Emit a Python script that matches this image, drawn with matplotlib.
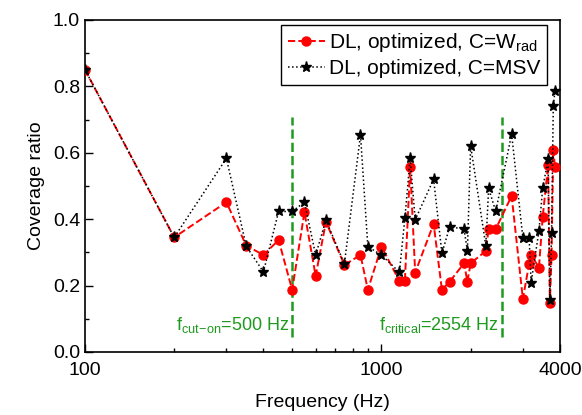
import matplotlib
matplotlib.use("Agg")
import matplotlib.pyplot as plt
from matplotlib.ticker import FixedLocator, FixedFormatter, MultipleLocator

plt.rcParams['font.family'] = ['Liberation Sans', 'DejaVu Sans']
plt.rcParams['mathtext.fontset'] = 'custom'
plt.rcParams['mathtext.rm'] = 'Liberation Sans'
plt.rcParams['mathtext.it'] = 'Liberation Sans:italic'

freq = [100, 200, 300, 350, 400, 450, 500, 550, 600, 650, 750, 850, 900, 1000,
        1150, 1200, 1250, 1300, 1500, 1600, 1700, 1900, 1950, 2000, 2250, 2300,
        2430, 2750, 3000, 3150, 3200, 3400, 3500, 3650, 3700, 3750, 3800, 3850]
wrad = [0.85, 0.345, 0.451, 0.320, 0.292, 0.337, 0.187, 0.421, 0.229, 0.392,
        0.262, 0.292, 0.187, 0.317, 0.214, 0.214, 0.558, 0.239, 0.386, 0.187,
        0.212, 0.267, 0.212, 0.267, 0.304, 0.370, 0.370, 0.470, 0.160, 0.265,
        0.292, 0.254, 0.406, 0.563, 0.147, 0.292, 0.608, 0.558]
msv = [0.85, 0.345, 0.583, 0.318, 0.241, 0.423, 0.423, 0.451, 0.292, 0.397,
       0.265, 0.654, 0.317, 0.292, 0.240, 0.403, 0.583, 0.398, 0.520, 0.297,
       0.377, 0.370, 0.304, 0.621, 0.320, 0.493, 0.423, 0.656, 0.344, 0.344,
       0.209, 0.365, 0.493, 0.580, 0.157, 0.359, 0.741, 0.786]

f_cuton = 500
f_crit = 2554
xticks = [100, 1000, 4000]
xticklabels = ['100', '1000', '4000']
minor_x = [200, 300, 400, 500, 600, 700, 800, 900, 2000, 3000]

green = '#1e9a1e'

fig = plt.figure(figsize=(5.82, 4.15), dpi=100)
ax = fig.add_axes([0.146, 0.152, 0.816, 0.8])

ax.plot(freq, wrad, color='red', linestyle='--', linewidth=1.4, marker='o',
        markersize=6.5, label=r'DL, optimized, C=W$_\mathregular{rad}$', zorder=3)
ax.plot(freq, msv, color='black', linestyle=':', linewidth=1.1, marker='*',
        markersize=8, label='DL, optimized, C=MSV', zorder=4)

ax.plot([f_cuton, f_cuton], [0.045, 0.708], color=green, linestyle='--', linewidth=1.8, zorder=2)
ax.plot([f_crit, f_crit], [0.045, 0.708], color=green, linestyle='--', linewidth=1.8, zorder=2)

ax.text(f_cuton * 0.975, 0.08, r'f$_\mathregular{cut\!-\!on}$=500 Hz', color=green,
        fontsize=13, ha='right', va='center')
ax.text(f_crit * 0.975, 0.08, r'f$_\mathregular{critical}$=2554 Hz', color=green,
        fontsize=13, ha='right', va='center')

ax.set_xscale('log')
ax.set_xlim(100, 4000)
ax.set_ylim(0, 1.0)
ax.xaxis.set_major_locator(FixedLocator(xticks))
ax.xaxis.set_major_formatter(FixedFormatter(xticklabels))
ax.xaxis.set_minor_locator(FixedLocator(minor_x))
ax.xaxis.set_minor_formatter(FixedFormatter([''] * len(minor_x)))
ax.yaxis.set_major_locator(MultipleLocator(0.2))
ax.yaxis.set_minor_locator(MultipleLocator(0.1))
ax.yaxis.set_major_formatter(plt.FuncFormatter(lambda v, p: f'{v:.1f}'))
ax.tick_params(which='both', direction='in', labelsize=14)
ax.tick_params(axis='x', which='major', pad=7)
ax.tick_params(which='major', length=6, width=1)
ax.tick_params(which='minor', length=3, width=1)
for s in ax.spines.values():
    s.set_linewidth(1.2)

ax.set_xlabel('Frequency (Hz)', fontsize=14, labelpad=11)
ax.set_ylabel('Coverage ratio', fontsize=14, labelpad=6)

leg = ax.legend(loc='upper right', bbox_to_anchor=(0.9726, 0.985), fontsize=15,
                frameon=True, fancybox=False, edgecolor='black', framealpha=1,
                borderpad=0.3, labelspacing=0.25, handlelength=1.8,
                handletextpad=0.2, borderaxespad=0.0)
leg.get_frame().set_linewidth(1.0)

fig.savefig('out.png', dpi=100)
